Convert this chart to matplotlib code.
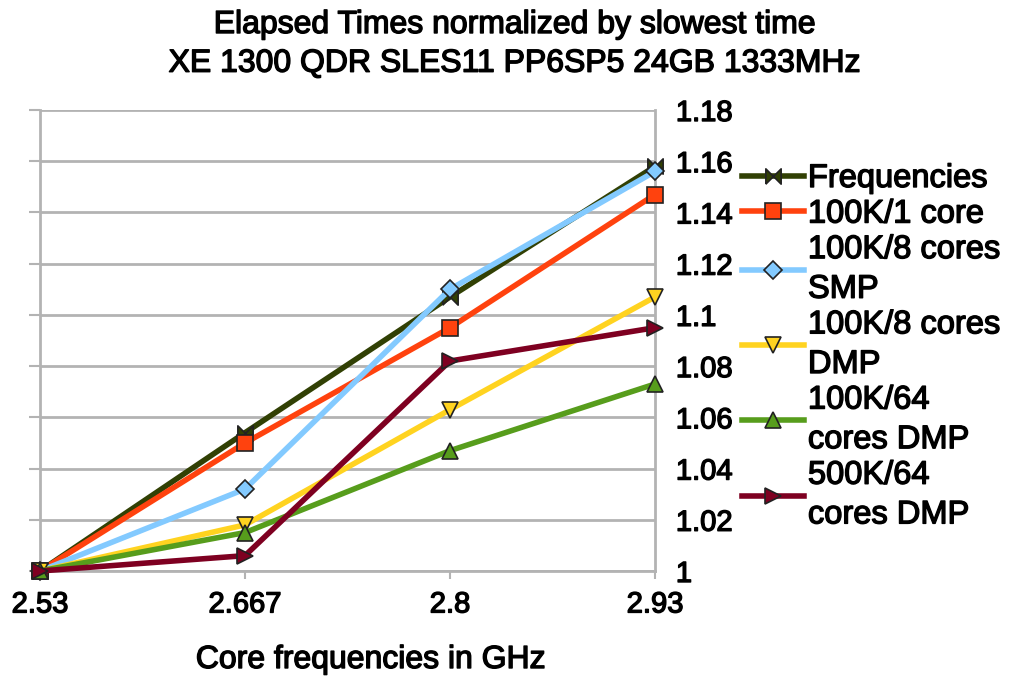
import matplotlib.pyplot as plt
import matplotlib.patheffects as pe

plt.rcParams['font.family'] = ['Liberation Sans', 'DejaVu Sans']

# data
freqs = ['2.53', '2.667', '2.8', '2.93']
series_names = ['Frequencies', '100K/1 core', '100K/8 cores\nSMP', '100K/8 cores\nDMP',
                '100K/64\ncores DMP', '500K/64\ncores DMP']
frequencies = [1.0, 1.054, 1.107, 1.158]
k100_1core = [1.0, 1.050, 1.095, 1.147]
k100_8smp = [1.0, 1.032, 1.110, 1.156]
k100_8dmp = [1.0, 1.018, 1.063, 1.107]
k100_64dmp = [1.0, 1.015, 1.047, 1.073]
k500_64dmp = [1.0, 1.006, 1.082, 1.095]
y_ticks = [1.0, 1.02, 1.04, 1.06, 1.08, 1.1, 1.12, 1.14, 1.16, 1.18]
y_labels = ['1', '1.02', '1.04', '1.06', '1.08', '1.1', '1.12', '1.14', '1.16', '1.18']

bowtie = [(-1, -1), (-1, 1), (1, -1), (1, 1), (-1, -1)]
styles = [
    ('#314004', bowtie, 11),
    ('#ff420e', 's', 11),
    ('#83caff', 'D', 9),
    ('#ffd320', 'v', 11),
    ('#579d1c', '^', 11),
    ('#7e0021', '>', 11),
]
all_series = [frequencies, k100_1core, k100_8smp, k100_8dmp, k100_64dmp, k500_64dmp]

# slight stroke to mimic the heavy text of the original
thick = [pe.withStroke(linewidth=1.0, foreground='black')]

fig = plt.figure(figsize=(10.1, 6.77), dpi=100)
ax = fig.add_axes([40 / 1010, 1 - 571 / 677, 615 / 1010, 461 / 677])

x = list(range(len(freqs)))
for vals, name, (col, mk, ms) in zip(all_series, series_names, styles):
    ax.plot(x, vals, color=col, lw=4, marker=mk, markersize=ms,
            markerfacecolor=col, markeredgecolor='#222222', markeredgewidth=1.2,
            label=name, clip_on=False, zorder=3)

ax.set_xlim(0, 3)
ax.set_ylim(1.0, 1.18)
ax.set_xticks(x)
ax.set_xticklabels(freqs, fontsize=21, path_effects=thick)
ax.set_yticks(y_ticks)
ax.set_yticklabels(y_labels, fontsize=21, path_effects=thick)
ax.tick_params(axis='y', left=True, right=False, length=8, color='#b3b3b3', width=1.5,
               labelright=True, labelleft=False, pad=7)
ax.tick_params(axis='x', length=6, color='#b3b3b3', width=1.5, pad=8)
ax.grid(axis='y', color='#b3b3b3', lw=2)
ax.set_axisbelow(True)
for side in ['left', 'right', 'bottom']:
    ax.spines[side].set_color('#b3b3b3')
    ax.spines[side].set_linewidth(2)
ax.spines['top'].set_visible(False)

fig.text(371 / 1010, 1 - 660 / 677, 'Core frequencies in GHz', fontsize=23,
         ha='center', va='center', path_effects=thick)
fig.text(0.51, 1 - 10 / 677, 'Elapsed Times normalized by slowest time\nXE 1300 QDR SLES11 PP6SP5 24GB 1333MHz',
         fontsize=23, ha='center', va='top', linespacing=1.38, path_effects=thick)

leg = fig.legend(loc='upper left', bbox_to_anchor=(742 / 1010, 1 - 163 / 677), frameon=False,
                 fontsize=23.5, handlelength=1.9, handletextpad=0.12, labelspacing=0.14,
                 borderaxespad=0, borderpad=0)
for t in leg.get_texts():
    t.set_linespacing(1.36)
    t.set_path_effects(thick)

fig.savefig('out.png', dpi=100)
